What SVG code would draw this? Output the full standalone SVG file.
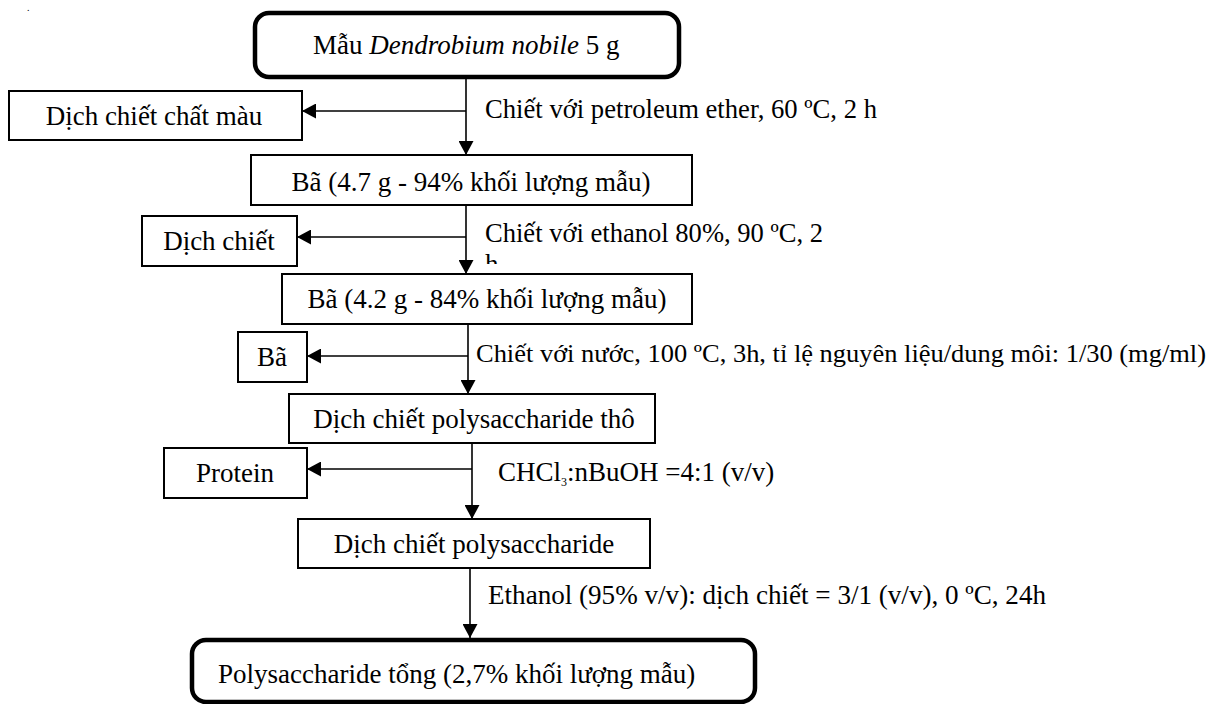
<svg xmlns="http://www.w3.org/2000/svg" width="1215" height="704" viewBox="0 0 1215 704">
<style>
text{font-family:"Liberation Serif","Times New Roman",serif;font-size:27px;fill:#000}
.box{fill:#fff;stroke:#000;stroke-width:2}
.tbox{fill:#fff;stroke:#000;stroke-width:4.5}
.c{text-anchor:middle}
.ln{stroke:#000;stroke-width:1.6;fill:none}
.arr{marker-end:url(#ah)}
</style>
<defs>
<marker id="ah" markerUnits="userSpaceOnUse" viewBox="0 0 14 15" refX="14" refY="7.5" markerWidth="14" markerHeight="15" orient="auto">
<path d="M0,0 L14,7.5 L0,15 z" fill="#000"/>
</marker>
<clipPath id="cut"><rect x="470" y="250" width="60" height="14"/></clipPath>
</defs>
<text x="27" y="11" style="font-size:10px">.</text>
<g id="connectors">
<line class="ln arr" x1="466" y1="77" x2="466" y2="155"/>
<line class="ln arr" x1="466" y1="111" x2="302" y2="111"/>
<line class="ln arr" x1="466" y1="205" x2="466" y2="274"/>
<line class="ln arr" x1="466" y1="237" x2="297" y2="237"/>
<line class="ln arr" x1="468" y1="324" x2="468" y2="394"/>
<line class="ln arr" x1="468" y1="356" x2="307" y2="356"/>
<line class="ln arr" x1="472" y1="443" x2="472" y2="519"/>
<line class="ln arr" x1="472" y1="469" x2="307" y2="469"/>
<line class="ln arr" x1="470" y1="568" x2="470" y2="638"/>
<text x="485" y="118" textLength="392" lengthAdjust="spacingAndGlyphs">Chiết với petroleum ether, 60 ºC, 2 h</text>
<text x="485" y="242" textLength="338" lengthAdjust="spacingAndGlyphs">Chiết với ethanol 80%, 90 ºC, 2</text>
<text x="485" y="273" clip-path="url(#cut)">h</text>
<text x="476" y="362" style="font-size:25px" textLength="730" lengthAdjust="spacingAndGlyphs">Chiết với nước, 100 ºC, 3h, tỉ lệ nguyên liệu/dung môi: 1/30 (mg/ml)</text>
<text x="498" y="481">CHCl<tspan style="font-size:12px" dy="5">3</tspan><tspan dy="-5">:nBuOH =4:1 (v/v)</tspan></text>
<text x="488" y="604" textLength="558" lengthAdjust="spacingAndGlyphs">Ethanol (95% v/v): dịch chiết = 3/1 (v/v), 0 ºC, 24h</text>
</g>
<g id="n-start">
<rect class="tbox" x="255" y="13" width="424" height="64" rx="14"/>
<text x="313" y="54">Mẫu <tspan font-style="italic">Dendrobium nobile</tspan> 5 g</text>
</g>
<g id="n-mau">
<rect class="box" x="9" y="91" width="293" height="49"/>
<text class="c" x="154" y="125">Dịch chiết chất màu</text>
</g>
<g id="n-ba1">
<rect class="box" x="251" y="155" width="441" height="50"/>
<text class="c" x="471" y="191">Bã (4.7 g - 94% khối lượng mẫu)</text>
</g>
<g id="n-dichchiet">
<rect class="box" x="142" y="216" width="155" height="50"/>
<text class="c" x="219" y="250">Dịch chiết</text>
</g>
<g id="n-ba2">
<rect class="box" x="282" y="274" width="410" height="50"/>
<text class="c" x="487" y="308">Bã (4.2 g - 84% khối lượng mẫu)</text>
</g>
<g id="n-ba3">
<rect class="box" x="238" y="332" width="69" height="50"/>
<text class="c" x="272" y="366">Bã</text>
</g>
<g id="n-crude">
<rect class="box" x="289" y="394" width="366" height="49"/>
<text class="c" x="474" y="428">Dịch chiết polysaccharide thô</text>
</g>
<g id="n-protein">
<rect class="box" x="164" y="448" width="143" height="50"/>
<text class="c" x="235" y="482">Protein</text>
</g>
<g id="n-extract">
<rect class="box" x="298" y="519" width="352" height="49"/>
<text class="c" x="474" y="553">Dịch chiết polysaccharide</text>
</g>
<g id="n-final">
<rect class="tbox" x="192" y="640" width="563" height="62" rx="14"/>
<text x="218" y="683">Polysaccharide tổng (2,7% khối lượng mẫu)</text>
</g>
</svg>
